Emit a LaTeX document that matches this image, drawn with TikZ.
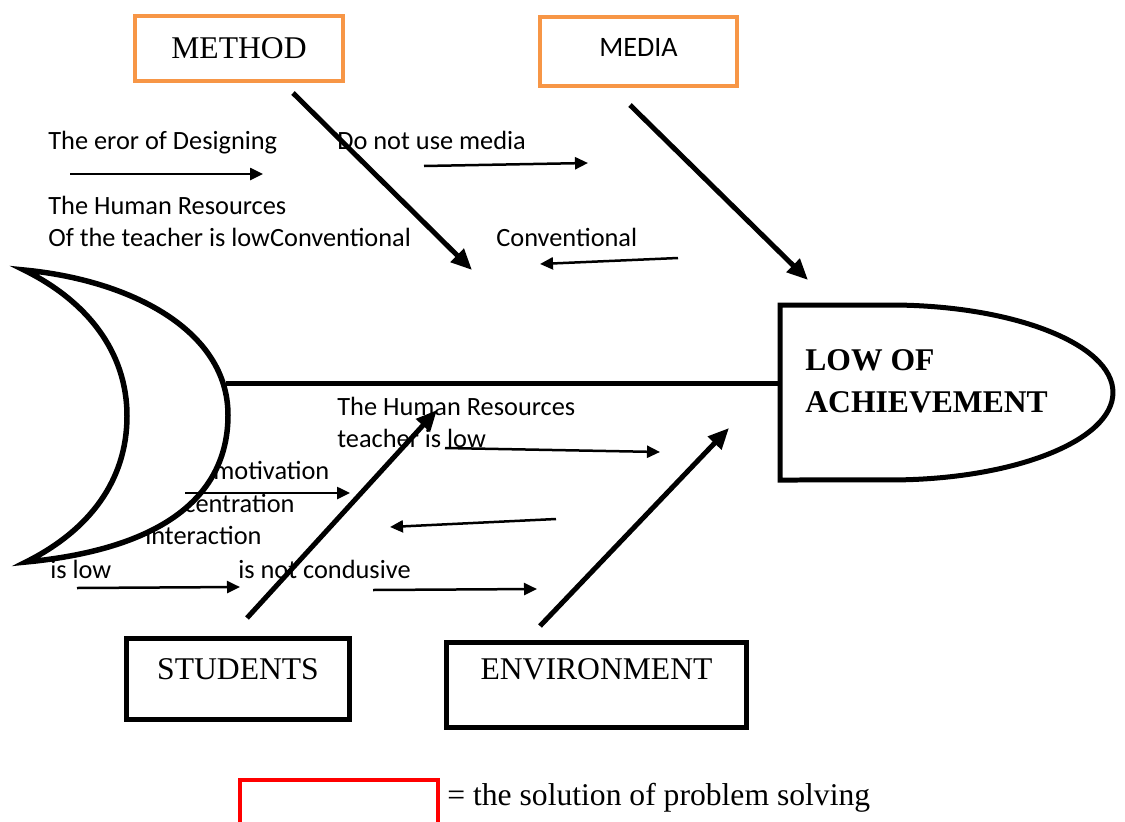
\documentclass[tikz,border=0pt]{standalone}
\usepackage{fontspec}
\setmainfont{Liberation Serif}
\newfontfamily\calibri{Carlito}
\usetikzlibrary{arrows.meta}
\definecolor{boneorange}{HTML}{F79646}
\definecolor{keyred}{HTML}{FF0000}

\begin{document}
\begin{tikzpicture}[
  x=0.02cm, y=-0.02cm,
  catbox/.style={rectangle, draw=black, line width=0.1cm, inner sep=0pt,
                 font=\fontsize{18}{22}\selectfont, align=center},
  orangebox/.style={catbox, draw=boneorange, line width=0.08cm},
  cause/.style={font=\calibri\fontsize{15}{18}\selectfont, anchor=base west, inner sep=0pt},
  bone/.style={-{Triangle[length=0.42cm,width=0.36cm]}, line width=0.1cm},
  twig/.style={-{Triangle[length=0.26cm,width=0.24cm]}, line width=0.05cm},
]
\clip (0,0) rectangle (1125,821);
\fill[white] (0,0) rectangle (1125,821);

%% CATEGORY BOXES
\node[orangebox, minimum width=4.16cm, minimum height=1.3cm] (method) at (239,48.5) {METHOD};
\node[orangebox, minimum width=3.94cm, minimum height=1.38cm, text depth=0.18cm,
      font=\calibri\fontsize{16}{19}\selectfont] (media) at (638.5,51.5) {MEDIA};
\node[catbox, minimum width=4.48cm, minimum height=1.62cm, text depth=0.38cm] (students) at (238,678.5) {STUDENTS};
\node[catbox, minimum width=6.02cm, minimum height=1.7cm, text depth=0.62cm] (environment) at (596.5,684.5) {ENVIRONMENT};

%% CAUSES -- upper half
\node[cause] (design)   at (48,149)  {The eror of Designing};
\node[cause] (nomedia)  at (337,149) {Do not use media};
\node[cause] (hr1)      at (48,214)  {The Human Resources};
\node[cause] (hr2)      at (48,246)  {Of the teacher is lowConventional};
\node[cause] (conv)     at (496,246) {Conventional};

%% CAUSES -- lower half
\node[cause] (hr3)      at (337,415) {The Human Resources};
\node[cause] (hr4)      at (337,447) {teacher is low};
\node[cause] (motiv)    at (213,479) {motivation};
\node[cause] (concent)  at (184,512) {centration};
\node[cause] (interact) at (145,544) {interaction};
\node[cause] (islow)    at (50,578)  {is low};
\node[cause] (condus)   at (238,578) {is not condusive};

%% FISH HEAD (covers the start of the labels)
\draw[line width=0.11cm, fill=white, line join=miter]
  (24,270) .. controls (130,280) and (228,330) .. (228,415)
           .. controls (228,490) and (172,548) .. (26,562)
           .. controls (90,530) and (127,480) .. (127,416)
           .. controls (127,350) and (85,300) .. cycle;
\coordinate (head) at (226,383);

%% EFFECT
\coordinate (effect) at (780,383);
\draw[line width=0.1cm] (780,305) -- (890,305)
  arc[start angle=90, end angle=-90, x radius=4.46cm, y radius=1.75cm]
  -- (780,480) -- cycle;
\node[anchor=west, inner sep=0pt, align=left, font=\bfseries\fontsize{18}{24}\selectfont]
  (lowach) at (805,381) {LOW OF\\ACHIEVEMENT};

%% SPINE
\draw[line width=0.1cm] (head) -- (effect);

%% BONES
\coordinate (methodtail) at (293,93);   \coordinate (methodtip) at (472,270);
\coordinate (mediatail)  at (630,105);  \coordinate (mediatip)  at (808,280);
\coordinate (studtail)   at (247,618);  \coordinate (studtip)   at (437,410);
\coordinate (envtail)    at (540,626);  \coordinate (envtip)    at (729,428);
\draw[bone] (methodtail) -- (methodtip);
\draw[bone] (mediatail)  -- (mediatip);
\draw[bone] (studtail)   -- (studtip);
\draw[bone] (envtail)    -- (envtip);

%% SMALL ARROWS
\coordinate (a1s) at (70,174);  \coordinate (a1e) at (263,174);
\coordinate (a2s) at (424,166); \coordinate (a2e) at (588,163);
\coordinate (a3s) at (678,258); \coordinate (a3e) at (540,264);
\coordinate (a4s) at (445,448); \coordinate (a4e) at (660,452);
\coordinate (a5s) at (185,493); \coordinate (a5e) at (350,493);
\coordinate (a6s) at (556,519); \coordinate (a6e) at (390,527);
\coordinate (a7s) at (77,588);  \coordinate (a7e) at (240,587);
\coordinate (a8s) at (373,590); \coordinate (a8e) at (537,589);
\foreach \i in {1,...,8}
  \draw[twig] (a\i s) -- (a\i e);

%% KEY
\node[rectangle, draw=keyred, line width=0.08cm, minimum width=3.96cm, minimum height=1.6cm]
  (key) at (339,820) {};
\node[anchor=base west, inner sep=0pt, font=\fontsize{18}{22}\selectfont]
  (keytext) at (447,805) {= the solution of problem solving};

\end{tikzpicture}
\end{document}
